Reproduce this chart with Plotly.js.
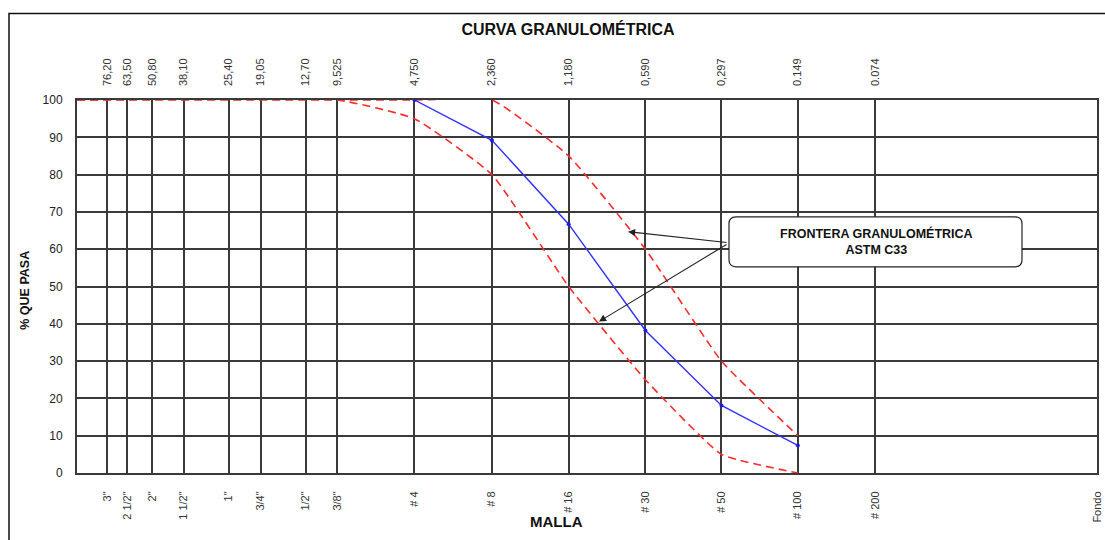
<!DOCTYPE html>
<html>
<head>
<meta charset="utf-8">
<script src="https://cdn.plot.ly/plotly-3.0.1.min.js"></script>
<style>html,body{margin:0;padding:0;background:#fff;}#chart{width:1105px;height:540px;}</style>
</head>
<body>
<div id="chart"></div>
<script>
// Sieve openings (mm) and labels
var sieveSizes = [76.2, 63.5, 50.8, 38.1, 25.4, 19.05, 12.7, 9.525, 4.75, 2.36, 1.18, 0.59, 0.297, 0.149, 0.074];
var sizeLabels = ['76,20','63,50','50,80','38,10','25,40','19,05','12,70','9,525','4,750','2,360','1,180','0,590','0,297','0.149','0.074'];
var meshLabels = ['3"','2 1/2"','2"','1 1/2"','1"','3/4"','1/2"','3/8"','# 4','# 8','# 16','# 30','# 50','# 100','# 200','Fondo'];
var meshPositions = [76.2, 63.5, 50.8, 38.1, 25.4, 19.05, 12.7, 9.525, 4.75, 2.36, 1.18, 0.59, 0.297, 0.149, 0.074, 0.01];

// Sample gradation (% passing)
var sampleSizes = [4.75, 2.36, 1.18, 0.59, 0.297, 0.149];
var samplePass = [100, 89.2, 66.7, 38.2, 18.1, 7.4];

// ASTM C33 limits
var limitSizes = [100, 9.525, 4.75, 2.36, 1.18, 0.59, 0.297, 0.149];
var upperLimit = [100, 100, 100, 100, 85, 60, 30, 10];
var lowerLimit = [100, 100, 95, 80, 50, 25, 5, 0];

var yTicks = [0,10,20,30,40,50,60,70,80,90,100];

var font = 'Liberation Sans, Arial, sans-serif';
var redLine = {color:'#ff2a2a', width:1.6, dash:'8px,5px', shape:'spline', smoothing:0.4};

var traces = [
  {x: limitSizes, y: upperLimit, mode:'lines', line: redLine, hoverinfo:'skip', cliponaxis:true},
  {x: limitSizes, y: lowerLimit, mode:'lines', line: redLine, hoverinfo:'skip', cliponaxis:true},
  {x: sampleSizes, y: samplePass, mode:'lines+markers', line:{color:'#3030ff', width:1.4},
   marker:{color:'#1a1aee', size:4}, cliponaxis:false}
];

// rounded box in paper coords
var L = 77, R = 1097, T = 100, B = 473.5;
function px(v){ return (v - L)/(R - L); }
function py(v){ return (B - v)/(B - T); }
var bx0 = 729, bx1 = 1022, by0 = 217, by1 = 267, rr = 7;
var boxPath = 'M ' + px(bx0+rr) + ',' + py(by0) +
  ' L ' + px(bx1-rr) + ',' + py(by0) +
  ' Q ' + px(bx1) + ',' + py(by0) + ' ' + px(bx1) + ',' + py(by0+rr) +
  ' L ' + px(bx1) + ',' + py(by1-rr) +
  ' Q ' + px(bx1) + ',' + py(by1) + ' ' + px(bx1-rr) + ',' + py(by1) +
  ' L ' + px(bx0+rr) + ',' + py(by1) +
  ' Q ' + px(bx0) + ',' + py(by1) + ' ' + px(bx0) + ',' + py(by1-rr) +
  ' L ' + px(bx0) + ',' + py(by0+rr) +
  ' Q ' + px(bx0) + ',' + py(by0) + ' ' + px(bx0+rr) + ',' + py(by0) + ' Z';

var gridCol = '#3a3a3a';
var layout = {
  width:1105, height:540,
  margin:{l:77, r:8, t:100, b:66.5},
  paper_bgcolor:'#ffffff', plot_bgcolor:'#ffffff',
  showlegend:false,
  font:{family:font, color:'#333'},
  title:{text:'<b>CURVA GRANULOMÉTRICA</b>', font:{family:font, size:16, color:'#111'},
         x:568/1105, xref:'container', xanchor:'center', y:1-29/540, yref:'container', yanchor:'middle'},
  xaxis:{type:'log', range:[2,-2], tickvals:meshPositions, ticktext:meshLabels, tickangle:-90,
         tickfont:{family:font, size:11, color:'#333'}, ticks:'', ticklabelstandoff:12,
         showgrid:true, gridcolor:gridCol, gridwidth:2, zeroline:false,
         showline:true, linecolor:gridCol, linewidth:2, mirror:true, automargin:false},
  xaxis2:{type:'log', range:[2,-2], overlaying:'x', side:'top', anchor:'y',
          tickvals:sieveSizes, ticktext:sizeLabels, tickangle:-90,
          tickfont:{family:font, size:11, color:'#333'}, ticks:'', ticklabelstandoff:13,
          showgrid:false, zeroline:false, showline:false, automargin:false},
  yaxis:{range:[0,100], tickvals:yTicks, ticks:'', ticklabelstandoff:10,
         tickfont:{family:font, size:12, color:'#222'},
         showgrid:true, gridcolor:gridCol, gridwidth:2, zeroline:false,
         showline:true, linecolor:gridCol, linewidth:2, mirror:true, automargin:false},
  shapes:[
    {type:'rect', xref:'paper', yref:'paper', x0:px(9), x1:px(1112), y0:py(548), y1:py(13.5),
     line:{color:'#111', width:1.5}, fillcolor:'rgba(0,0,0,0)', layer:'below'},
    {type:'path', xref:'paper', yref:'paper', path:boxPath, fillcolor:'#ffffff',
     line:{color:'#222', width:1.2}, layer:'above'}
  ],
  annotations:[
    {xref:'paper', yref:'paper', x:px(556), y:py(522), text:'<b>MALLA</b>', showarrow:false,
     font:{family:font, size:15, color:'#111'}, xanchor:'center', yanchor:'middle'},
    {xref:'paper', yref:'paper', x:px(25), y:py(291), text:'<b>% QUE PASA</b>', showarrow:false,
     textangle:-90, font:{family:font, size:12.5, color:'#111'}, xanchor:'center', yanchor:'middle'},
    {xref:'paper', yref:'paper', x:px(876), y:py(241.5), text:'<b>FRONTERA GRANULOMÉTRICA<br>ASTM C33</b>',
     showarrow:false, font:{family:font, size:12.5, color:'#111'}, xanchor:'center', yanchor:'middle'},
    {xref:'x', yref:'y', x:-0.1608, y:64.7, text:'', showarrow:true, ax:100, ay:11,
     arrowhead:2, arrowsize:1.3, arrowwidth:1.1, arrowcolor:'#222'},
    {xref:'x', yref:'y', x:-0.047, y:40.6, text:'', showarrow:true, ax:129, ay:-78,
     arrowhead:2, arrowsize:1.3, arrowwidth:1.1, arrowcolor:'#222'}
  ]
};
traces.push({x:[sieveSizes[0]], y:[null], xaxis:'x2', yaxis:'y', mode:'markers', hoverinfo:'skip', showlegend:false});

Plotly.newPlot('chart', traces, layout, {displayModeBar:false, staticPlot:true});
</script>
</body>
</html>
